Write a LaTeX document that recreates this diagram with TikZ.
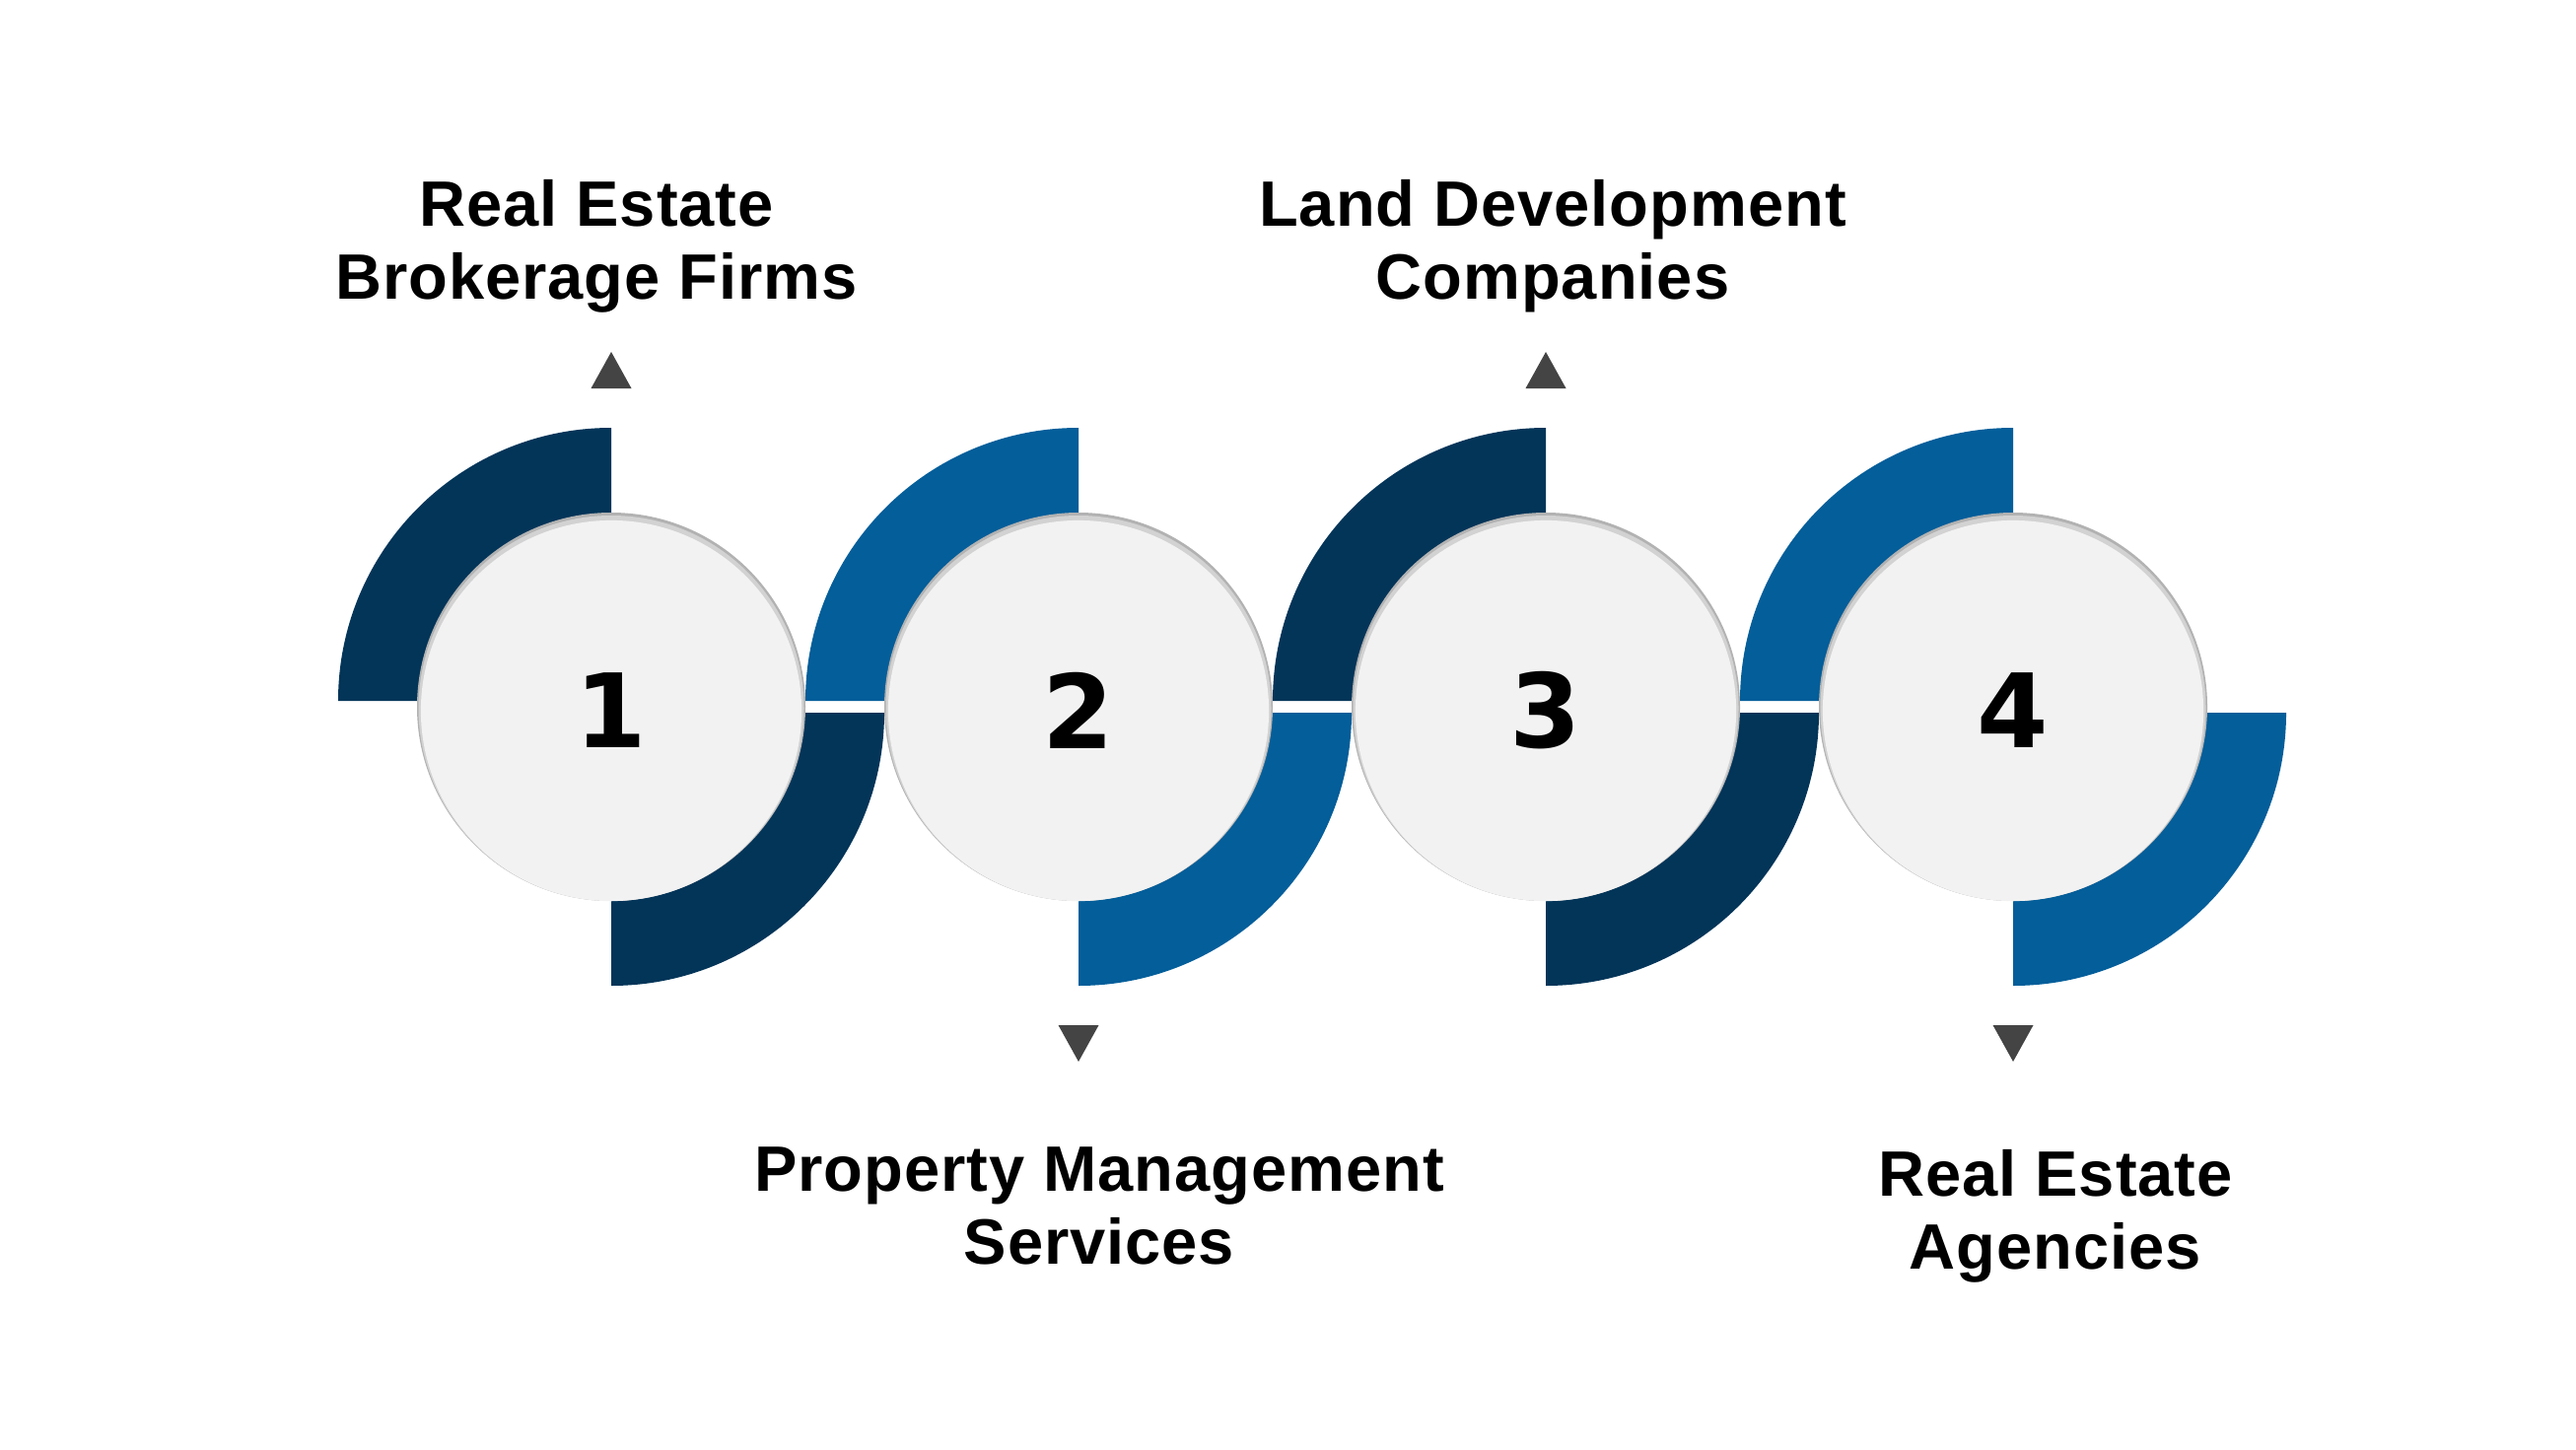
\documentclass[tikz,border=0pt]{standalone}
\usepackage{fontspec}
\setmainfont{Liberation Sans}
\newfontfamily\rotulofont{Liberation Sans}[LetterSpace=1.5]
\newfontfamily\numerofont{DejaVu Sans}
\usepackage{tikz}
\usetikzlibrary{positioning}

\definecolor{azulescuro}{RGB}{3,53,89}
\definecolor{azul}{RGB}{3,94,154}
\definecolor{disco}{RGB}{242,242,242}
\definecolor{sombra}{RGB}{178,178,178}
\definecolor{seta}{RGB}{68,68,68}

\tikzset{
  disc/.style={circle, fill=disco, minimum size=3.86cm, inner sep=0pt,
    font=\numerofont\bfseries\fontsize{29.6}{30}\selectfont},
  rotulo/.style={align=center, inner sep=0pt,
    font=\rotulofont\bfseries\fontsize{18.5}{21}\selectfont},
}

\begin{document}
\begin{tikzpicture}[x=0.01cm, y=0.01cm]
        \fill[white] (0,0) rectangle (2613,-1470);

        % Primeiro circulo
        \fill[azulescuro] (620,-711) -- ++(-277,0) arc[start angle=180, end angle=90, radius=277] -- cycle;
        \fill[azulescuro] (620,-723) -- ++(277,0) arc[start angle=0, end angle=-90, radius=277] -- cycle;

        % Segundo circulo
        \fill[azul] (1094,-711) -- ++(-277,0) arc[start angle=180, end angle=90, radius=277] -- cycle;
        \fill[azul] (1094,-723) -- ++(277,0) arc[start angle=0, end angle=-90, radius=277] -- cycle;

        % Terceiro circulo
        \fill[azulescuro] (1568,-711) -- ++(-277,0) arc[start angle=180, end angle=90, radius=277] -- cycle;
        \fill[azulescuro] (1568,-723) -- ++(277,0) arc[start angle=0, end angle=-90, radius=277] -- cycle;

        % Quarto circulo
        \fill[azul] (2042,-711) -- ++(-277,0) arc[start angle=180, end angle=90, radius=277] -- cycle;
        \fill[azul] (2042,-723) -- ++(277,0) arc[start angle=0, end angle=-90, radius=277] -- cycle;

        % Discos com sombra
        \fill[sombra] (620,-717) circle[radius=197];
        \fill[sombra!50!disco] (620,-718.5) circle[radius=195.5];
        \node[disc] (c1) at (620,-721) {1};
        \fill[sombra] (1094,-717) circle[radius=197];
        \fill[sombra!50!disco] (1094,-718.5) circle[radius=195.5];
        \node[disc] (c2) at (1094,-721) {2};
        \fill[sombra] (1568,-717) circle[radius=197];
        \fill[sombra!50!disco] (1568,-718.5) circle[radius=195.5];
        \node[disc] (c3) at (1568,-721) {3};
        \fill[sombra] (2042,-717) circle[radius=197];
        \fill[sombra!50!disco] (2042,-718.5) circle[radius=195.5];
        \node[disc] (c4) at (2042,-721) {4};

        % Setas
        \fill[seta] (599.5,-394) -- (640.5,-394) -- (620,-357) -- cycle;
        \fill[seta] (1073.5,-1040) -- (1114.5,-1040) -- (1094,-1077) -- cycle;
        \fill[seta] (1547.5,-394) -- (1588.5,-394) -- (1568,-357) -- cycle;
        \fill[seta] (2021.5,-1040) -- (2062.5,-1040) -- (2042,-1077) -- cycle;

        % Rotulos
        \node[rotulo] (t1) at (605,-250) {Real Estate\\Brokerage Firms};
        \node[rotulo] (t2) at (1115,-1223) {Property Management\\Services};
        \node[rotulo] (t3) at (1575,-250) {Land Development\\Companies};
        \node[rotulo] (t4) at (2085,-1234) {Real Estate\\Agencies};
\end{tikzpicture}
\end{document}
